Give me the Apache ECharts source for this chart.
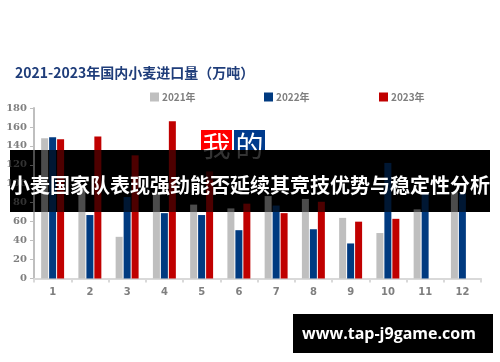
<!DOCTYPE html>
<html><head><meta charset="utf-8">
<script src="https://cdn.jsdelivr.net/npm/echarts@6/dist/echarts.min.js"></script>
<style>html,body{margin:0;padding:0;background:#fff}#c{width:500px;height:362px}</style>
</head><body><div id="c"></div>
<script>
var categories = ['1','2','3','4','5','6','7','8','9','10','11','12'];
var yTicks = [0,20,40,60,80,100,120,140,160,180];
var s2021 = [148, 97, 44, 90, 78, 74, 87, 84, 64, 48, 73, 91];
var s2022 = [149, 67, 86, 69, 67, 51, 77, 52, 37, 122, 91, 90];
var s2023 = [147, 150, 130, 166, 113, 79, 69, 81, 60, 63, null, null];
var seriesNames = ['2021年','2022年','2023年'];
var colors = ['#bfbfbf','#003a80','#c00000'];
var titleText = '2021-2023年国内小麦进口量（万吨）';
var bannerText = '小麦国家队表现强劲能否延续其竞技优势与稳定性分析';
var siteText = 'www.tap-j9game.com';

var chart = echarts.init(document.getElementById('c'), null, {renderer:'canvas'});
var dataSets = [s2021, s2022, s2023];
var legendLefts = [145, 259, 374];
var fontFam = '"Noto Sans CJK SC","DejaVu Sans",sans-serif';
var option = {
  backgroundColor: '#ffffff',
  animation: false,
  color: colors,
  title: {
    text: titleText, left: 10, top: 61,
    textStyle: {color:'#1f3d7a', fontSize: 14, fontWeight: 'bold', fontFamily: fontFam}
  },
  legend: seriesNames.map(function(n,i){
    return {data:[n], left: legendLefts[i], top: 87, itemWidth: 9, itemHeight: 9, itemGap: 0,
      icon: 'rect', textStyle:{color:'#7f7f7f', fontSize: 10, fontWeight:'bold', padding:[0,0,0,-2], fontFamily: fontFam}};
  }),
  grid: {left: 34, right: 19, top: 108, bottom: 83.5, containLabel: false},
  xAxis: {
    type: 'category', data: categories, z: 3,
    axisLine: {lineStyle: {color:'#d9d9d9', width: 2}},
    axisTick: {show: true, length: 4, lineStyle:{color:'#d9d9d9', width: 2}},
    axisLabel: {color:'#7f7f7f', fontSize: 10, fontWeight:'bold', margin: 9, fontFamily:'"DejaVu Sans",sans-serif'}
  },
  yAxis: {
    type: 'value', min: yTicks[0], max: yTicks[yTicks.length-1], interval: 20, z: 3,
    axisLine: {show: true, lineStyle: {color:'#bfbfbf', width: 2}},
    axisTick: {show: true, length: 4, lineStyle:{color:'#bfbfbf'}},
    splitLine: {show: false},
    axisLabel: {color:'#7f7f7f', fontSize: 10, fontWeight:'bold', margin: 7, fontFamily:'"DejaVu Serif",serif'}
  },
  series: dataSets.map(function(d,i){
    return {name: seriesNames[i], type:'bar', data: d, barWidth: 7, barGap: '14%', z: 3,
      itemStyle:{color: colors[i]}};
  }),
  graphic: [
    {type:'rect', z: 1, shape:{x:10, y:150, width:480, height:62}, style:{fill:'#000'}},
    {type:'rect', z: 5, shape:{x:201, y:130, width:31, height:20}, style:{fill:'#ff0000'}},
    {type:'rect', z: 5, shape:{x:234, y:130, width:31, height:20}, style:{fill:'#003a8c'}},
    {type:'text', z: 6, style:{text:'我', x:216.5, y:146, fill:'#fff', font:'28px "Noto Sans CJK SC"', textAlign:'center', textVerticalAlign:'top', textBaseline:'top', y:132}},
    {type:'text', z: 6, style:{text:'的', x:249.5, y:132, fill:'#fff', font:'28px "Noto Sans CJK SC"', textAlign:'center', textBaseline:'top'}},
    {type:'rect', z: 10, shape:{x:10, y:150, width:480, height:62}, style:{fill:'rgba(0,0,0,0.6)'}},
    {type:'rect', z: 10, shape:{x:201, y:150, width:64, height:30}, style:{fill:'rgba(0,0,0,0.5)'}},
    {type:'text', z: 11, style:{text: bannerText, x:250, y:185, fill:'#fff', font:'bold 20px "Noto Sans CJK SC"', textAlign:'center', textVerticalAlign:'middle'}},
    {type:'rect', z: 11, shape:{x:293, y:314, width:200, height:39}, style:{fill:'#000'}},
    {type:'text', z: 12, style:{text: siteText, x:389, y:334, fill:'#fff', font:'bold 16px "Open Sans","DejaVu Sans",sans-serif', textAlign:'center', textVerticalAlign:'middle'}}
  ]
};
chart.setOption(option);
</script></body></html>
